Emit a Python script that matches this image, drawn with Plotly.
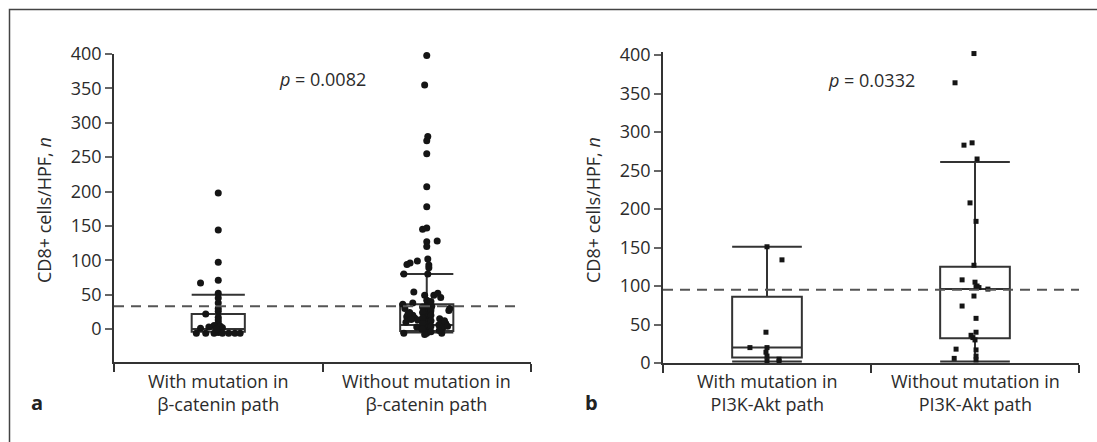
import plotly.graph_objects as go

W, H = 1097, 442

# ---------------- data ----------------
cat_a = ["With mutation in<br>β-catenin path", "Without mutation in<br>β-catenin path"]
cat_b = ["With mutation in<br>PI3K-Akt path", "Without mutation in<br>PI3K-Akt path"]

# panel a, group 1 (with mutation) values and horizontal jitter (category units)
a1_vals = [198, 144, 97, 71, 67, 52, 38, 30, 22, 17, 9, 5, 3, 1, 2, -5, -6, -6, -6, -6, -6, -6, -6,
           45, 26, 13, 4, 0]
a1_jit = [0, 0, 0, 0, -0.085, 0, 0, 0, -0.06, 0, 0, -0.02, -0.045, -0.085, 0.02, 0,
          -0.105, -0.06, -0.02, 0.02, 0.05, 0.08, 0.105,
          0, 0, 0, 0.01, -0.01]
# panel a, group 2 (without mutation)
a2_vals = [398, 355, 280, 274, 255, 207, 178, 147, 145, 128, 127, 120, 102, 99, 96, 93, 89, 94, 80, 80,
           54, 49, 49, 46, 52, 38, 34, 30, 26, 22, 18, 14, 10, 6, 2, -2, -6, 30, 24, 20,
           16, 13, 18, 27, 15, 10, 6, 2, 8, -6, -6, 3, 33, 25, 12, 0, 36, 30, 42,
           40, 32, 28, 24, 20, 16, 12, 8, 4, 0, -4, -8, 22, 14, 10, 12, 4, -2]
a2_jit = [0, -0.01, 0.005, 0, 0, 0, 0, 0, -0.02, 0.05, 0, 0, 0.005, -0.045, -0.08, 0.01, 0.01, -0.095, -0.11, 0.005,
          -0.062, -0.01, 0.034, 0.067, 0.053, -0.067, 0, 0.005, -0.01, 0.01, 0, 0.01, -0.005, 0.005, 0, 0.01, 0, -0.105, -0.082, -0.067,
          -0.058, -0.043, -0.096, 0.106, 0.062, 0.072, 0.058, 0.077, 0.091, -0.11, 0.072, -0.048, 0.024, 0.019, 0.019, -0.024, -0.115, 0.11, 0,
          0.02, -0.02, 0.02, -0.02, 0.02, -0.02, 0.02, -0.02, 0.02, -0.02, 0.02, -0.01, -0.09, -0.075, -0.1, 0.085, 0.1, 0.06]
# box statistics panel a: [group1, group2]
a_q1 = [-4, -3]
a_med = [0, 6]
a_q3 = [22, 36]
a_lo = [-4, -5]
a_hi = [50, 80]
a_ref = 33
a_p = "<i>p</i> = 0.0082"

# panel b
b1_vals = [151, 134, 40, 20, 20, 14, 9, 5, 3, 2]
b1_jit = [0, 0.072, -0.005, -0.082, 0, -0.005, 0, 0.058, 0, 0.058]
b2_vals = [402, 364, 283, 286, 265, 208, 184, 127, 108, 105, 100, 99, 98, 96, 87, 74, 58, 40, 36, 33,
           30, 18, 17, 9, 6, 4]
b2_jit = [-0.005, -0.096, -0.053, -0.014, 0.01, -0.024, 0.005, -0.005, -0.062, 0, 0.01, 0.005, 0.019, 0.062,
          -0.005, -0.062, 0.005, 0.005, -0.019, -0.01, 0, -0.091, 0.005, 0.005, -0.1, 0.005]
b_q1 = [7, 32]
b_med = [20, 96]
b_q3 = [86, 125]
b_lo = [2, 2]
b_hi = [151, 261]
b_ref = 95
b_p = "<i>p</i> = 0.0332"

y_ticks = [0, 50, 100, 150, 200, 250, 300, 350, 400]
y_title = "CD8+ cells/HPF, <i>n</i>"

# ---------------- figure ----------------
FONT = "Open Sans, Noto Sans, DejaVu Sans, sans-serif"
TXT = "#2b2b2b"
LINE = "#333333"
DOT = "#151515"
FS = 18

fig = go.Figure()


def add_panel(xa, ya, q1, med, q3, lo, hi, boxw, groups, marker):
    for i in range(2):
        fig.add_trace(go.Box(
            x=[i], q1=[q1[i]], median=[med[i]], q3=[q3[i]], lowerfence=[lo[i]], upperfence=[hi[i]],
            width=boxw, whiskerwidth=1, boxpoints=False,
            line=dict(color=LINE, width=2), fillcolor="rgba(0,0,0,0)",
            xaxis=xa, yaxis=ya, showlegend=False, hoverinfo="skip"))
    for i, (vals, jit) in enumerate(groups):
        fig.add_trace(go.Scatter(
            x=[i + j for j in jit], y=vals, mode="markers", marker=marker, cliponaxis=False,
            xaxis=xa, yaxis=ya, showlegend=False, hoverinfo="skip"))


add_panel("x", "y", a_q1, a_med, a_q3, a_lo, a_hi, 0.255,
          [(a1_vals, a1_jit), (a2_vals, a2_jit)],
          dict(symbol="circle", size=7, color=DOT))
add_panel("x2", "y2", b_q1, b_med, b_q3, b_lo, b_hi, 0.335,
          [(b1_vals, b1_jit), (b2_vals, b2_jit)],
          dict(symbol="square", size=5, color=DOT))

xcommon = dict(range=[-0.5, 1.5], tickvals=[-0.5, 0.5, 1.5], ticktext=["", "", ""],
               showticklabels=False, ticks="outside", ticklen=8, tickcolor=LINE, tickwidth=1.5,
               showline=True, linecolor=LINE, linewidth=1.5, showgrid=False, zeroline=False,
               fixedrange=True, automargin=False)
ycommon = dict(tickvals=y_ticks, ticks="outside", ticklen=7, tickcolor="#666", tickwidth=1.5,
               showline=True, linecolor=LINE, linewidth=1.5, showgrid=False, zeroline=False,
               tickfont=dict(family=FONT, size=FS, color=TXT), fixedrange=True, automargin=False)

fig.update_layout(
    template="none",
    width=W, height=H, autosize=False,
    margin=dict(l=0, r=0, t=0, b=0, pad=0, autoexpand=False),
    paper_bgcolor="white", plot_bgcolor="rgba(0,0,0,0)",
    font=dict(family=FONT, size=FS, color=TXT),
    showlegend=False,
    xaxis=dict(domain=[114 / W, 531 / W], anchor="y", **xcommon),
    yaxis=dict(domain=[1 - 362 / H, 1 - 54 / H], range=[-48, 400], anchor="x", **ycommon),
    xaxis2=dict(domain=[663 / W, 1079 / W], anchor="y2", **xcommon),
    yaxis2=dict(domain=[1 - 363 / H, 1 - 52 / H], range=[0, 404], anchor="x2", **ycommon),
)

# reference (dashed) lines
fig.add_shape(type="line", xref="x domain", yref="y", x0=0, x1=0.97, y0=a_ref, y1=a_ref,
              line=dict(color="#555", width=2, dash="10px,7px"))
fig.add_shape(type="line", xref="x2 domain", yref="y2", x0=0, x1=1, y0=b_ref, y1=b_ref,
              line=dict(color="#555", width=2, dash="10px,7px"))

# outer frame (left and top edges visible)
fig.add_shape(type="rect", xref="paper", yref="paper", x0=9.5 / W, x1=1.02, y0=-0.05, y1=1 - 9.5 / H,
              line=dict(color="#444", width=1.5), fillcolor="rgba(0,0,0,0)", layer="below")

ann = []
# category labels
for xa, cats in (("x", cat_a), ("x2", cat_b)):
    for i, c in enumerate(cats):
        ann.append(dict(x=i, xref=xa, y=1 - 367 / H, yref="paper", text=c, showarrow=False,
                        xanchor="center", yanchor="top", font=dict(family=FONT, size=FS, color=TXT)))
# axis titles
for xp in (44, 593):
    ann.append(dict(x=xp / W, y=1 - 210 / H, xref="paper", yref="paper", text=y_title, textangle=-90,
                    showarrow=False, xanchor="center", yanchor="middle",
                    font=dict(family=FONT, size=FS, color=TXT)))
# p values
ann.append(dict(x=322 / W, y=1 - 79 / H, xref="paper", yref="paper", text=a_p, showarrow=False,
                xanchor="center", yanchor="middle", font=dict(family=FONT, size=FS, color=TXT)))
ann.append(dict(x=871 / W, y=1 - 80 / H, xref="paper", yref="paper", text=b_p, showarrow=False,
                xanchor="center", yanchor="middle", font=dict(family=FONT, size=FS, color=TXT)))
# panel letters
ann.append(dict(x=37 / W, y=1 - 402 / H, xref="paper", yref="paper", text="<b>a</b>", showarrow=False,
                xanchor="center", yanchor="middle", font=dict(family=FONT, size=20, color="#222")))
ann.append(dict(x=591 / W, y=1 - 402 / H, xref="paper", yref="paper", text="<b>b</b>", showarrow=False,
                xanchor="center", yanchor="middle", font=dict(family=FONT, size=20, color="#222")))
fig.update_layout(annotations=ann)

fig.write_html("out.html", config={"displayModeBar": False},
               post_script="document.body.style.margin='0px';")
